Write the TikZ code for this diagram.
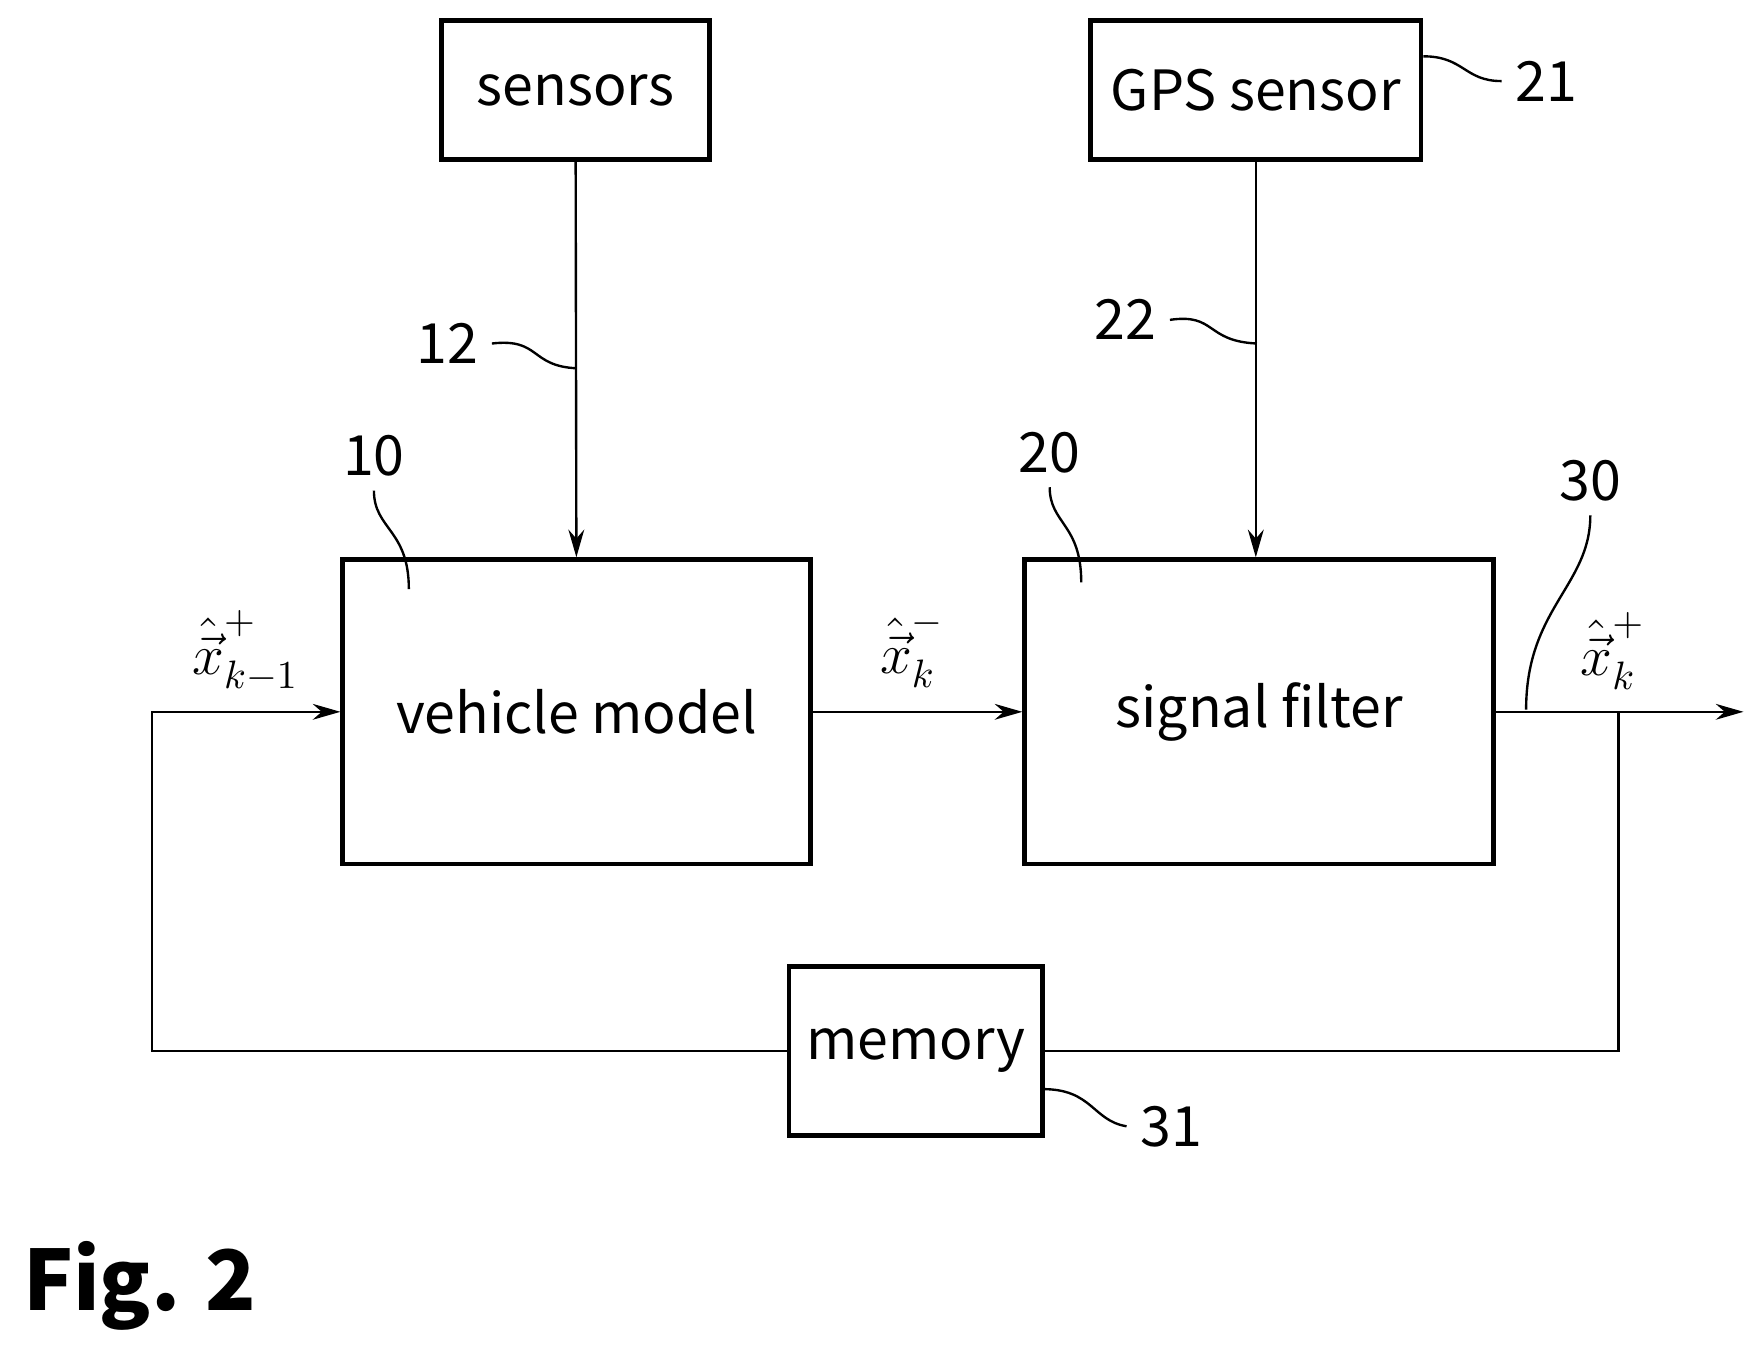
\documentclass[tikz,border=0pt]{standalone}
\usepackage{fontspec}
\setmainfont{Noto Sans CJK JP}
\usetikzlibrary{arrows.meta}

\begin{document}
\begin{tikzpicture}[x=0.01cm,y=-0.01cm,>={Stealth[length=7pt,width=4pt]},
  block/.style={draw,line width=1.2pt,inner sep=0pt,font=\fontsize{14}{17}\selectfont},
  sig/.style={line width=0.6pt},
  lead/.style={line width=0.6pt},
  ref/.style={font=\fontsize{14}{17}\selectfont},
  state/.style={font=\Large}]

\useasboundingbox (0,0) rectangle (1560,1197);

%blocks
\node[block,minimum width=2.38cm,minimum height=1.23cm] (sensors) at (511,80) {sensors};
\node[block,minimum width=2.93cm,minimum height=1.23cm] (gps) at (1115,80) {GPS sensor};
\node[block,minimum width=4.15cm,minimum height=2.7cm] (model) at (512,632) {vehicle model};
\node[block,minimum width=4.16cm,minimum height=2.7cm] (filter) at (1118,632) {signal filter};
\node[block,minimum width=2.25cm,minimum height=1.5cm] (memory) at (813,933) {memory};

%signals
\coordinate (in) at (135,632);
\coordinate (out) at (1548,632);
\coordinate (tap) at (1437,632);
\draw[sig,->] (sensors) -- (model);
\draw[sig,->] (gps.south) -- (filter.north -| gps.south);
\draw[sig,->] (model) -- (filter);
\draw[sig,->] (filter) -- (out);
\draw[sig] (tap) |- (memory);
\draw[sig,->] (memory) -| (in) -- (model);

%state labels
\node[state] (xin) at (218,578) {$\hat{\vec{x}}^{+}_{k-1}$};
\node[state] (xmid) at (810,576) {$\hat{\vec{x}}^{-}_{k}$};
\node[state] (xout) at (1432,578) {$\hat{\vec{x}}^{+}_{k}$};

%reference numerals
\node[ref] (n12) at (397,305) {12};
\draw[lead] (n12.east) .. controls (480,300) and (470,325) .. (512,327);
\node[ref] (n22) at (999,284) {22};
\draw[lead] (n22.east) .. controls (1080,278) and (1070,303) .. (1116,305);
\node[ref] (n21) at (1373,72) {21};
\draw[lead] (n21.west) .. controls (1300,72) and (1300,50) .. (gps.north east |- 0,50);
\node[ref] (n31) at (1040,1000) {31};
\draw[lead] (n31.west) .. controls (970,995) and (970,967) .. (926,967);
\node[ref] (n10) at (332,405) {10};
\draw[lead] (n10.south) .. controls (332,470) and (363,470) .. (363,523);
\node[ref] (n20) at (932,402) {20};
\draw[lead] (n20.south) .. controls (932,465) and (960,465) .. (960,517);
\node[ref] (n30) at (1412,427) {30};
\draw[lead] (n30.south) .. controls (1412,520) and (1355,540) .. (1355,630);

%figure label
\node[anchor=west,font=\fontsize{21}{25}\selectfont\bfseries] (fig) at (8,1142) {Fig. 2};

\end{tikzpicture}
\end{document}
